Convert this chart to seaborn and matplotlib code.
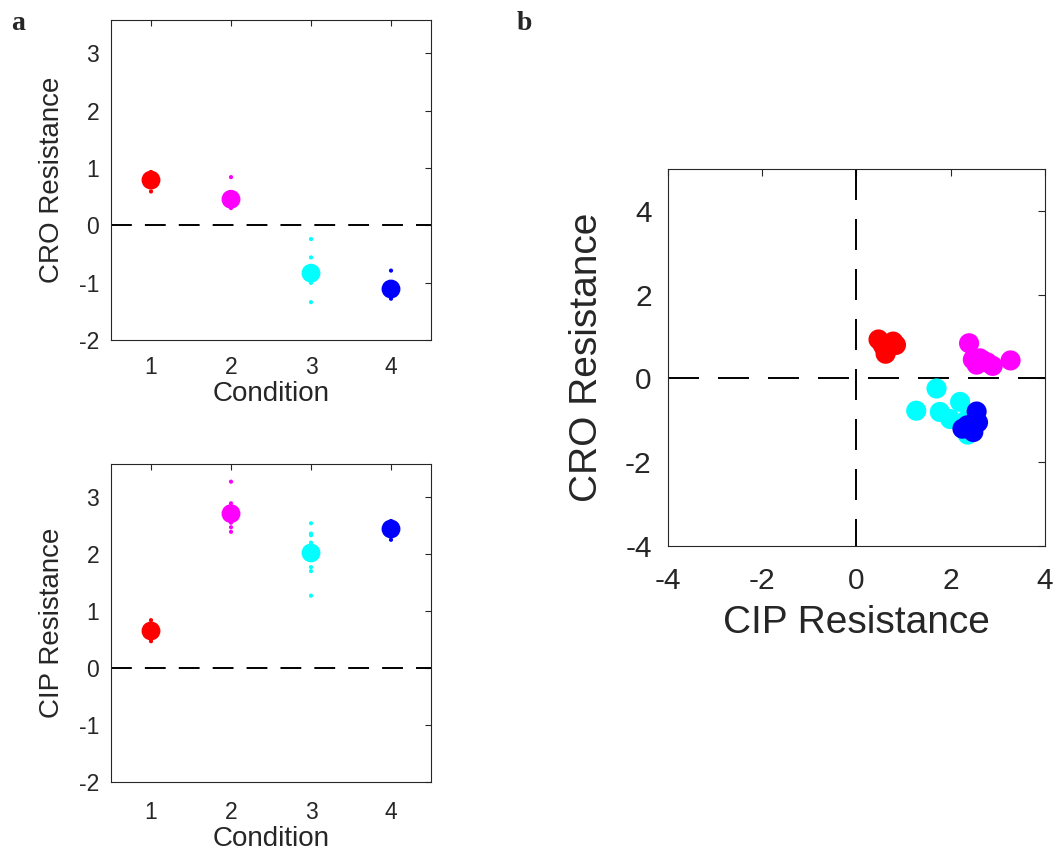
import numpy as np
import pandas as pd
import matplotlib
matplotlib.use("Agg")
import matplotlib.pyplot as plt
import seaborn as sns

# Conditions and their colours
conditions = [1, 2, 3, 4]
condition_colors = ["#ff0000", "#ff00ff", "#00ffff", "#0000ff"]

# Replicate resistance values for each condition (paired CIP / CRO)
cip_cond1 = [0.47, 0.55, 0.84, 0.78, 0.62, 0.66, 0.58, 0.70]
cro_cond1 = [0.93, 0.82, 0.80, 0.88, 0.59, 0.70, 0.76, 0.83]
cip_cond2 = [2.39, 2.47, 2.62, 2.70, 2.78, 2.89, 3.27, 2.55]
cro_cond2 = [0.84, 0.45, 0.48, 0.42, 0.38, 0.30, 0.43, 0.33]
cip_cond3 = [1.70, 2.20, 1.27, 1.77, 1.99, 2.36, 2.33, 2.54]
cro_cond3 = [-0.24, -0.56, -0.77, -0.80, -0.97, -1.34, -1.00, -1.00]
cip_cond4 = [2.55, 2.58, 2.25, 2.48, 2.40, 2.35, 2.45, 2.46]
cro_cond4 = [-0.79, -1.05, -1.20, -1.28, -1.15, -1.12, -1.10, -1.20]

cond_ticks = [1, 2, 3, 4]
res_ticks_a = [-2, -1, 0, 1, 2, 3]
res_ticks_b = [-4, -2, 0, 2, 4]

cip_all = [cip_cond1, cip_cond2, cip_cond3, cip_cond4]
cro_all = [cro_cond1, cro_cond2, cro_cond3, cro_cond4]
df = pd.DataFrame({
    "Condition": np.repeat(conditions, [len(v) for v in cip_all]),
    "CIP": np.concatenate(cip_all),
    "CRO": np.concatenate(cro_all),
})
means = df.groupby("Condition", as_index=False).mean()
palette = dict(zip(conditions, condition_colors))

sns.set_style("white")
plt.rcParams["font.family"] = ["Liberation Sans", "DejaVu Sans"]
plt.rcParams["lines.scale_dashes"] = False
plt.rcParams["axes.unicode_minus"] = False

AX_COLOR = "#262626"
W, H = 1057, 850
fig = plt.figure(figsize=(W / 100, H / 100), dpi=100)


def px_axes(left, top, right, bottom):
    return fig.add_axes([left / W, 1 - bottom / H, (right - left) / W, (bottom - top) / H])


def style_axes(ax, tick_size, tick_len, xpad, ypad):
    for sp in ax.spines.values():
        sp.set_visible(True)
        sp.set_color(AX_COLOR)
        sp.set_linewidth(0.8)
    ax.tick_params(direction="in", top=True, right=True, length=tick_len, width=0.8,
                   color=AX_COLOR, labelcolor=AX_COLOR, labelsize=tick_size)
    ax.tick_params(axis="x", pad=xpad)
    ax.tick_params(axis="y", pad=ypad)
    ax.grid(False)


# ---- panel a: resistance per condition ----
ax_cro = px_axes(111, 20, 431, 340)
ax_cip = px_axes(111, 464, 431, 782)

for ax, col, label, xpad, xlab_y in [
    (ax_cro, "CRO", "CRO Resistance", 11.5, -0.168),
    (ax_cip, "CIP", "CIP Resistance", 13.5, -0.178),
]:
    ax.plot([0.5, 4.5], [0, 0], color="black", lw=1.4, linestyle=(0, (15, 9.4)), zorder=2)
    sns.scatterplot(data=df, x="Condition", y=col, hue="Condition", palette=palette,
                    s=9, linewidth=0, legend=False, ax=ax, zorder=3)
    sns.scatterplot(data=means, x="Condition", y=col, hue="Condition", palette=palette,
                    s=185, linewidth=0, legend=False, ax=ax, zorder=4)
    ax.set_xlim(0.5, 4.5)
    ax.set_ylim(-2, 3.58)
    ax.set_xticks(cond_ticks)
    ax.set_yticks(res_ticks_a)
    style_axes(ax, 16.5, 4, xpad, 8.6)
    ax.set_xlabel("Condition", fontsize=20, color=AX_COLOR, va="center")
    ax.set_ylabel(label, fontsize=20, color=AX_COLOR, va="center")
    ax.xaxis.set_label_coords(0.5, xlab_y)
    ax.yaxis.set_label_coords(-0.184, 0.5)

# ---- panel b: CRO vs CIP resistance ----
ax_b = px_axes(667.7, 169, 1045, 546)
ax_b.plot([-4, 4], [0, 0], color="black", lw=1.4, linestyle=(0, (22.3, 13.7)), zorder=2)
ax_b.plot([0, 0], [5, -4], color="black", lw=1.4, linestyle=(0, (22.3, 13.7)), zorder=2)
sns.scatterplot(data=df, x="CIP", y="CRO", hue="Condition", palette=palette,
                s=210, linewidth=0, legend=False, ax=ax_b, zorder=3)
ax_b.set_xlim(-4, 4)
ax_b.set_ylim(-4, 5)
ax_b.set_xticks(res_ticks_b)
ax_b.set_yticks(res_ticks_b)
style_axes(ax_b, 21.5, 5, 15, 11.5)
ax_b.set_xlabel("CIP Resistance", fontsize=28, color=AX_COLOR, va="center")
ax_b.set_ylabel("CRO Resistance", fontsize=28, color=AX_COLOR, va="center")
ax_b.xaxis.set_label_coords(0.5, -0.203)
ax_b.yaxis.set_label_coords(-0.213, 0.5)

# panel letters
for x, letter in [(11, "a"), (517, "b")]:
    fig.text(x / W, 1 - 29.5 / H, letter, fontsize=20, fontweight="bold",
             family=["Liberation Serif", "DejaVu Serif"], va="baseline", ha="left")

fig.savefig("out.png", dpi=100, facecolor="white")
